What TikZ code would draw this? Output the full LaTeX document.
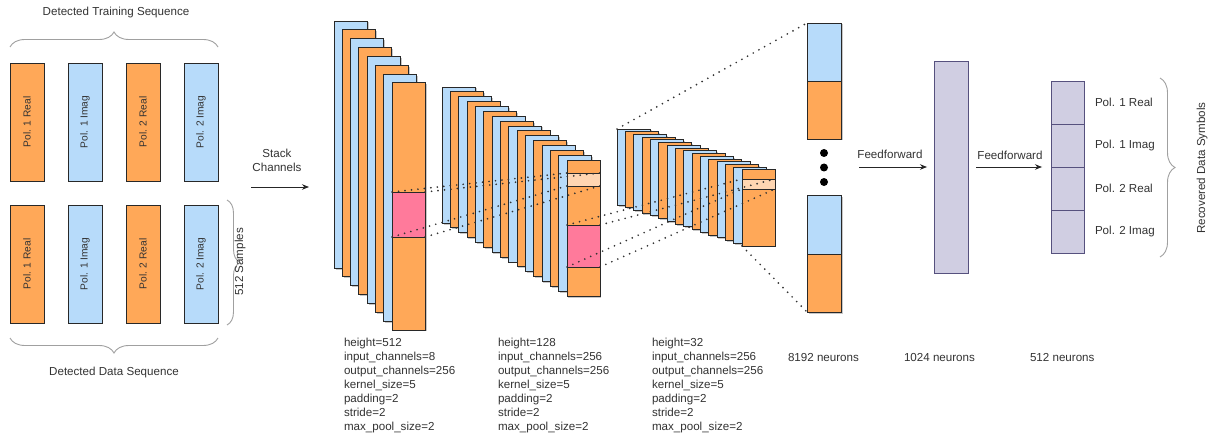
\documentclass[tikz,border=0pt]{standalone}
\usepackage{fontspec}
\setmainfont{Liberation Sans}
\usetikzlibrary{arrows.meta,shadows,decorations.pathreplacing}

\definecolor{orangeC}{RGB}{255,168,88}
\definecolor{blueC}{RGB}{183,219,250}
\definecolor{pinkC}{RGB}{255,122,155}
\definecolor{peachC}{RGB}{255,214,178}
\definecolor{lavC}{RGB}{208,206,226}
\definecolor{lavEdge}{RGB}{86,81,126}
\definecolor{txtC}{RGB}{51,51,51}
\definecolor{edgeC}{RGB}{40,40,40}
\definecolor{braceC}{RGB}{160,160,160}

\begin{document}
\begin{tikzpicture}[x=1pt,y=-1pt,
  font=\fontsize{11.6}{14}\selectfont,
  every node/.style={text=txtC},
  box/.style={draw=edgeC, line width=0.9pt, inner sep=0pt, outer sep=0pt, anchor=north west},
  layer/.style={box, drop shadow={shadow xshift=1.5pt, shadow yshift=-1.5pt, fill=black, opacity=0.22}},
  small/.style={font=\fontsize{10.2}{12}\selectfont},
  plain/.style={inner sep=0pt, outer sep=0pt},
  dotlink/.style={line width=1.9pt, dash pattern=on 0pt off 6.5pt, line cap=round, black!80},
  curly/.style={draw=braceC, line width=0.9pt, decorate, decoration={brace, amplitude=15pt}},
  arr/.style={line width=0.8pt, black!85, -{Stealth[length=7pt,width=5.5pt]}}
]
\useasboundingbox (0,0) rectangle (1213,441);
\fill[white] (0,0) rectangle (1213,441);

% ---- input channels ----
\foreach \i/\c/\t in {0/orangeC/Pol. 1 Real, 1/blueC/Pol. 1 Imag, 2/orangeC/Pol. 2 Real, 3/blueC/Pol. 2 Imag} {
  \node[box, fill=\c, minimum width=34, minimum height=118] (tr\i) at ({10+58*\i},63) {};
  \node[small, rotate=90] (trl\i) at (tr\i.center) {\t};
  \node[box, fill=\c, minimum width=34, minimum height=118] (br\i) at ({10+58*\i},205) {};
  \node[small, rotate=90] (brl\i) at (br\i.center) {\t};
}
\draw[curly] ([yshift=16pt]tr0.north west) -- ([yshift=16pt]tr3.north east);
\draw[curly] ([yshift=-15pt]br3.south east) -- ([yshift=-15pt]br0.south west);
\draw[curly, decoration={brace, amplitude=13pt}] ([xshift=9pt,yshift=5pt]br3.north east) -- ([xshift=9pt,yshift=-2pt]br3.south east);
\node (ttrain) at (116,13) {Detected Training Sequence};
\node (tdata) at (114,372) {Detected Data Sequence};
\node[rotate=90] (tsamp) at (240,262) {512 Samples};

% ---- stacking ----
\node[align=center] (tstack) at (277,160) {Stack\\Channels};
\coordinate (stA) at (251,187);
\coordinate (stB) at (309,187);
\draw[arr] (stA) -- (stB);

% ---- convolution layer 1 ----
\foreach \i in {0,...,7} {
  \ifodd\i \def\cc{orangeC}\else\def\cc{blueC}\fi
  \node[layer, fill=\cc, minimum width=33, minimum height=247] (s1-\i) at ({334+8.3*\i},{21+8.85*\i}) {};
}
\node[box, fill=pinkC, minimum width=33, minimum height=45] (k1) at (392.1,192) {};

% ---- convolution layer 2 ----
\foreach \i in {0,...,15} {
  \ifodd\i \def\cc{orangeC}\else\def\cc{blueC}\fi
  \node[layer, fill=\cc, minimum width=33, minimum height=136] (s2-\i) at ({442+8.33*\i},{87+4.87*\i}) {};
}
\node[box, fill=peachC, minimum width=33, minimum height=13] (p2) at (566.95,173) {};
\node[box, fill=pinkC, minimum width=33, minimum height=42] (k2) at (566.95,225) {};

% ---- convolution layer 3 ----
\foreach \i in {0,...,15} {
  \ifodd\i \def\cc{orangeC}\else\def\cc{blueC}\fi
  \node[layer, fill=\cc, minimum width=33, minimum height=76] (s3-\i) at ({617+8.33*\i},{129+2.73*\i}) {};
}
\node[box, fill=peachC, minimum width=33, minimum height=10] (p3) at (741.95,179) {};

% ---- flattened features ----
\node[layer, fill=blueC, minimum width=34, minimum height=58] (n1) at (807,23) {};
\node[layer, fill=orangeC, minimum width=34, minimum height=58] (n2) at (807,81) {};
\node[layer, fill=blueC, minimum width=34, minimum height=59] (n3) at (807,195) {};
\node[layer, fill=orangeC, minimum width=34, minimum height=58] (n4) at (807,254) {};
\foreach \j/\yy in {1/153,2/167.5,3/182}
  \node[circle, fill=black, minimum size=8pt, inner sep=0pt] (e\j) at (824,\yy) {};

% ---- receptive-field guides ----
\draw[dotlink] (k1.north west) -- (p2.north west);
\draw[dotlink] (k1.north east) -- (p2.north east);
\draw[dotlink] (k1.south west) -- (p2.south west);
\draw[dotlink] (k1.south east) -- (p2.south east);
\draw[dotlink] (k2.north west) -- (p3.north west);
\draw[dotlink] (k2.north east) -- (p3.north east);
\draw[dotlink] (k2.south west) -- (p3.south west);
\draw[dotlink] (k2.south east) -- (p3.south east);
\draw[dotlink] (s3-0.north west) -- (n1.north west);
\draw[dotlink] (s3-15.south west) -- (n4.south west);

% ---- dense layers ----
\node (ff1) at (890,154) {Feedforward};
\coordinate (fA) at (859,167);
\coordinate (fB) at (927,167);
\draw[arr] (fA) -- (fB);
\node[box, fill=lavC, draw=lavEdge, minimum width=34, minimum height=212] (h1) at (934,61) {};

\node (ff2) at (1010,155) {Feedforward};
\coordinate (gA) at (976,167);
\coordinate (gB) at (1042,167);
\draw[arr] (gA) -- (gB);
\foreach \i/\t in {0/Pol. 1 Real, 1/Pol. 1 Imag, 2/Pol. 2 Real, 3/Pol. 2 Imag} {
  \node[box, fill=lavC, draw=lavEdge, minimum width=33, minimum height=43] (o\i) at (1051,{81+43*\i}) {};
  \node[plain, anchor=west] (ol\i) at ([xshift=11pt]o\i.east) {\t};
}
\draw[curly] (1160,78) -- (1160,257);
\node[rotate=90] (trec) at (1202,168) {Recovered Data Symbols};

% ---- layer settings ----
\node[plain, anchor=north west, align=left] (cfg1) at (344,338) {height=512\\input\_channels=8\\output\_channels=256\\kernel\_size=5\\padding=2\\stride=2\\max\_pool\_size=2};
\node[plain, anchor=north west, align=left] (cfg2) at (498,338) {height=128\\input\_channels=256\\output\_channels=256\\kernel\_size=5\\padding=2\\stride=2\\max\_pool\_size=2};
\node[plain, anchor=north west, align=left] (cfg3) at (652,338) {height=32\\input\_channels=256\\output\_channels=256\\kernel\_size=5\\padding=2\\stride=2\\max\_pool\_size=2};
\node[plain, anchor=west] (nn1) at (788,358) {8192 neurons};
\node[plain, anchor=west] (nn2) at (904,358) {1024 neurons};
\node[plain, anchor=west] (nn3) at (1030,358) {512 neurons};
\end{tikzpicture}
\end{document}
